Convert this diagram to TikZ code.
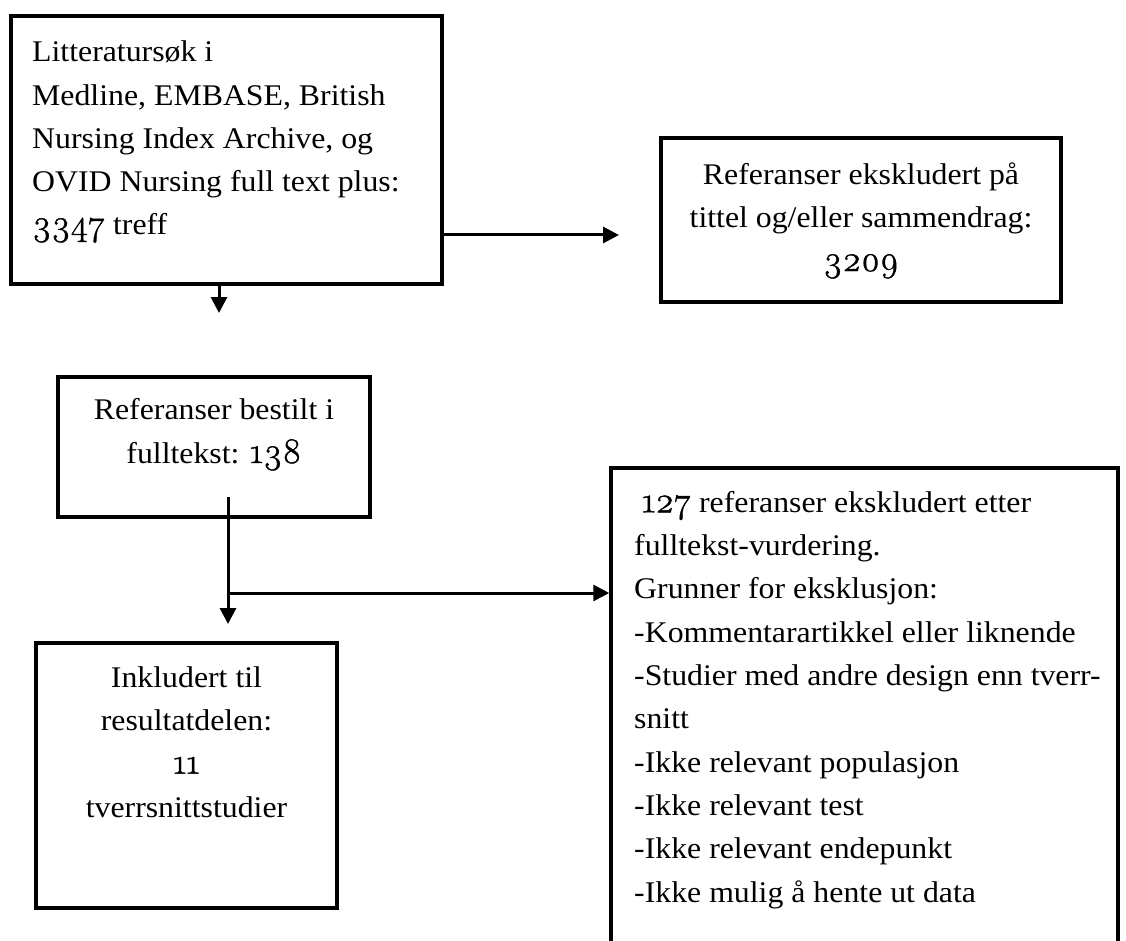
\documentclass[tikz,border=0pt]{standalone}
\usepackage{fontspec}
\setmainfont[FakeStretch=1.06]{Liberation Serif}
\newfontfamily\osf[Numbers=OldStyle,Scale=1.2,FakeBold=1.2]{Latin Modern Roman}
\usetikzlibrary{arrows.meta}
\begin{document}
\begin{tikzpicture}[x=1pt,y=-1pt,
  box/.style={draw=black, line width=3.5pt, rectangle, inner sep=0pt},
  txt/.style={inner sep=0pt, font=\fontsize{30}{43.3}\selectfont},
  conn/.style={line width=3pt, -{Triangle[length=16pt,width=16pt]}},
  ]
\useasboundingbox (0,0) rectangle (1126,941);
\fill[white] (0,0) rectangle (1126,941);
\clip (0,0) rectangle (1126,941);
% boxes
\node[box, minimum width=431pt, minimum height=268pt] (b1) at (226.5,150) {};
\node[box, minimum width=400pt, minimum height=164pt] (b2) at (861,220) {};
\node[box, minimum width=312pt, minimum height=140pt] (b3) at (214,447) {};
\node[box, minimum width=507pt, minimum height=492pt] (b4) at (864.5,714) {};
\node[box, minimum width=301pt, minimum height=265pt] (b5) at (186.5,775.5) {};
% texts (base anchor = baseline of the last line)
\node[txt, anchor=base west, align=left] (t1) at (32,235)
  {Litteratursøk i\\Medline, EMBASE, British\\Nursing Index Archive, og\\OVID Nursing full text plus:\\{\osf 3347} treff};
\node[txt, anchor=base, align=center] (t2) at (861,271)
  {Referanser ekskludert på\\tittel og/eller sammendrag:\\{\osf 3209}};
\node[txt, anchor=base, align=center] (t3) at (214,463)
  {Referanser bestilt i\\fulltekst: {\osf 138}};
\node[txt, anchor=base, align=center] (t5) at (186.5,817)
  {Inkludert til\\resultatdelen:\\{\osf 11}\\tverrsnittstudier};
\node[txt, anchor=base west, align=left] (t4) at (634,902)
  {\hspace*{8pt}{\osf 127} referanser ekskludert etter\\fulltekst-vurdering.\\Grunner for eksklusjon:\\-Kommentarartikkel eller liknende\\-Studier med andre design enn tverr-\\snitt\\-Ikke relevant populasjon\\-Ikke relevant test\\-Ikke relevant endepunkt\\-Ikke mulig å hente ut data};
% connectors
\coordinate (a1) at (219,313);
\coordinate (a2) at (619,235);
\coordinate (c3) at (228,497);
\coordinate (a3) at (228,624);
\coordinate (j) at (228,593);
\draw[conn] (b1.south -| a1) -- (a1);
\draw[conn] (b1.east |- a2) -- (a2);
\draw[conn] (c3) -- (a3);
\draw[conn] (j) -- (b4.west |- j);
\end{tikzpicture}
\end{document}
